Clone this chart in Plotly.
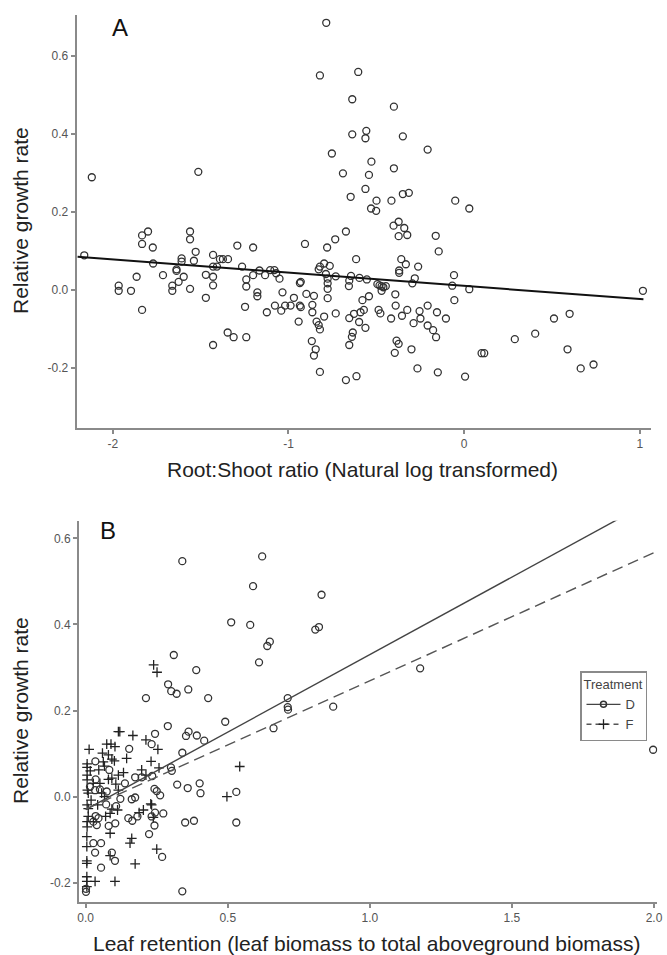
import plotly.graph_objects as go

# ---------------- Panel A data: Root:Shoot ratio (ln) vs RGR ----------------
a_x = [-0.785, -0.821, -0.603, -0.637, -0.400, -0.637, -0.557, -0.562, -0.349, -0.208,
       -0.753, -0.528, -0.400, -0.690, -0.542, -1.513, -2.119, -0.562, -0.349, -0.315,
       -0.646, -0.499, -0.414, -0.530, -0.501, -0.051, 0.029, -0.373, -0.402, -0.341,
       -0.324, -0.373, -0.162, -0.145, -0.673, -0.734, -0.780, -0.906, -0.615, -0.358,
       -0.332, -0.262, -0.370, -0.370, -0.058, -0.281, -0.295, -0.068, 0.029, -0.056,
       -0.392, -0.390, -0.354, -0.324, -0.288, -0.254, -0.208, -0.249, -0.208, -0.177,
       -0.160, -0.155, -0.104, -0.416, -0.385, -0.373, -0.395, -0.300, -0.266, -0.150,
       0.005, 0.099, 0.114, 0.288, 0.404, 0.511, 0.600, 0.588, 0.663, 0.736,
       1.017, -0.821, -0.828, -0.797, -0.765, -0.787, -0.777, -0.777, -0.777, -0.777,
       -0.731, -0.644, -0.654, -0.656, -0.596, -0.554, -0.494, -0.482, -0.470, -0.460,
       -0.446, -0.470, -0.542, -0.579, -0.571, -0.590, -0.487, -0.477, -0.627, -0.654,
       -0.598, -0.562, -0.731, -0.797, -0.840, -0.828, -0.821, -0.864, -0.864, -0.855,
       -0.898, -0.942, -0.634, -0.639, -0.654, -0.867, -0.845, -0.855, -0.821, -0.673,
       -0.613, -2.162, -1.966, -1.966, -1.896, -1.864, -1.833, -1.833, -1.799, -1.772,
       -1.770, -1.833, -1.714, -1.661, -1.661, -1.637, -1.637, -1.625, -1.608, -1.608,
       -1.596, -1.560, -1.560, -1.528, -1.538, -1.560, -1.470, -1.470, -1.429, -1.429,
       -1.429, -1.429, -1.429, -1.390, -1.373, -1.344, -1.407, -1.346, -1.312, -1.291,
       -1.264, -1.240, -1.240, -1.247, -1.240, -1.201, -1.201, -1.177, -1.177, -1.165,
       -1.133, -1.123, -1.104, -1.080, -1.070, -1.051, -1.034, -1.077, -1.041, -1.019,
       -0.988, -0.969, -0.935, -0.930, -0.935, -0.930]
a_y = [0.685, 0.550, 0.559, 0.489, 0.470, 0.399, 0.408, 0.389, 0.394, 0.360,
       0.350, 0.329, 0.312, 0.299, 0.295, 0.303, 0.289, 0.259, 0.246, 0.249,
       0.239, 0.229, 0.229, 0.209, 0.203, 0.229, 0.209, 0.175, 0.165, 0.159,
       0.141, 0.138, 0.139, 0.099, 0.150, 0.130, 0.109, 0.118, 0.079, 0.079,
       0.066, 0.060, 0.050, 0.044, 0.038, 0.030, 0.017, 0.011, 0.002, -0.026,
       -0.011, -0.040, -0.066, -0.051, -0.085, -0.054, -0.040, -0.073, -0.091, -0.103,
       -0.121, -0.057, -0.073, -0.073, -0.130, -0.138, -0.161, -0.152, -0.201, -0.211,
       -0.222, -0.162, -0.162, -0.126, -0.112, -0.073, -0.061, -0.152, -0.201, -0.191,
       -0.002, 0.060, 0.053, 0.068, 0.062, 0.041, 0.029, 0.017, 0.003, -0.021,
       0.035, 0.036, 0.024, 0.010, 0.031, 0.027, 0.015, 0.012, 0.010, 0.007,
       0.010, -0.002, -0.016, -0.026, -0.051, -0.057, -0.051, -0.060, -0.061, -0.072,
       -0.082, -0.097, -0.060, -0.068, -0.081, -0.090, -0.101, -0.057, -0.038, -0.015,
       -0.010, -0.081, -0.109, -0.120, -0.141, -0.131, -0.152, -0.168, -0.210, -0.231,
       -0.221, 0.089, 0.011, -0.002, -0.002, 0.034, 0.140, 0.118, 0.150, 0.109,
       0.068, -0.051, 0.038, 0.011, -0.002, 0.053, 0.049, 0.021, 0.081, 0.073,
       0.034, 0.150, 0.130, 0.098, 0.075, 0.003, 0.039, -0.020, 0.090, 0.060,
       0.034, 0.012, -0.141, 0.079, 0.079, 0.079, 0.060, -0.109, -0.121, 0.114,
       0.060, 0.027, 0.009, -0.043, -0.121, 0.109, 0.038, -0.006, -0.016, 0.050,
       0.038, -0.057, 0.051, 0.051, 0.043, 0.029, -0.006, -0.040, -0.053, -0.040,
       -0.040, -0.020, -0.040, -0.044, 0.018, 0.021]
a_fit_slope = -0.0338
a_fit_intercept = 0.0106
a_fit_x = [-2.2, 1.02]

# ---------------- Panel B data: Leaf retention vs RGR ----------------
d_x = [0.340, 0.621, 0.589, 0.830, 0.512, 0.579, 0.808, 0.821, 0.648, 0.639,
       0.610, 0.310, 0.389, 1.177, 0.290, 0.301, 0.320, 0.361, 0.212, 0.431,
       0.711, 0.711, 0.712, 0.871, 0.491, 0.661, 0.289, 0.244, 0.153, 0.232,
       0.362, 0.353, 0.391, 0.417, 0.340, 0.034, 0.083, 0.300, 0.303, 0.234,
       0.197, 0.174, 0.138, 0.322, 0.401, 0.404, 0.359, 0.242, 0.250, 0.262,
       0.035, 0.015, 0.033, 0.050, 0.074, 0.122, 0.162, 0.174, 0.072, 0.107,
       0.035, 0.045, 0.027, 0.039, 0.081, 0.104, 0.150, 0.164, 0.182, 0.232,
       0.244, 0.273, 0.242, 0.223, 0.350, 0.381, 0.530, 0.530, 0.027, 0.054,
       0.033, 0.092, 0.103, 0.269, 0.054, 0.001, 0.001, 0.340, 1.997]
d_y = [0.547, 0.558, 0.489, 0.469, 0.405, 0.399, 0.388, 0.394, 0.360, 0.350,
       0.312, 0.329, 0.294, 0.298, 0.261, 0.245, 0.239, 0.249, 0.229, 0.229,
       0.229, 0.208, 0.202, 0.209, 0.174, 0.159, 0.164, 0.146, 0.111, 0.122,
       0.151, 0.141, 0.142, 0.130, 0.102, 0.082, 0.062, 0.068, 0.060, 0.048,
       0.045, 0.045, 0.031, 0.028, 0.031, 0.008, 0.020, 0.018, 0.013, 0.003,
       0.040, 0.023, 0.015, 0.017, 0.012, -0.005, -0.006, -0.002, -0.018, -0.022,
       -0.045, -0.050, -0.058, -0.066, -0.068, -0.062, -0.050, -0.056, -0.046, -0.046,
       -0.037, -0.039, -0.067, -0.087, -0.060, -0.056, 0.011, -0.060, -0.108, -0.108,
       -0.130, -0.130, -0.149, -0.140, -0.165, -0.214, -0.221, -0.220, 0.109]
f_x = [0.115, 0.120, 0.166, 0.212, 0.074, 0.089, 0.103, 0.012, 0.144, 0.230,
       0.254, 0.059, 0.080, 0.092, 0.101, 0.062, 0.005, 0.005, 0.066, 0.046,
       0.016, 0.115, 0.005, 0.005, 0.080, 0.092, 0.050, 0.027, 0.106, 0.133,
       0.197, 0.212, 0.258, 0.006, 0.009, 0.056, 0.066, 0.115, 0.019, 0.005,
       0.009, 0.042, 0.086, 0.092, 0.112, 0.188, 0.203, 0.232, 0.009, 0.027,
       0.005, 0.005, 0.070, 0.086, 0.156, 0.162, 0.004, 0.004, 0.086, 0.250,
       0.004, 0.004, 0.174, 0.004, 0.004, 0.033, 0.103, 0.004, 0.239, 0.251,
       0.497, 0.542, 0.229, 0.238]
f_y = [0.151, 0.151, 0.142, 0.132, 0.122, 0.122, 0.116, 0.110, 0.089, 0.082,
       0.110, 0.101, 0.097, 0.087, 0.083, 0.081, 0.076, 0.068, 0.071, 0.062,
       0.060, 0.050, 0.050, 0.039, 0.040, 0.043, 0.031, 0.031, 0.029, 0.056,
       0.062, 0.050, 0.067, 0.015, 0.008, 0.008, 0.000, 0.015, -0.008, -0.019,
       -0.028, -0.019, -0.039, -0.029, -0.031, -0.037, -0.031, -0.019, -0.046, -0.058,
       -0.058, -0.070, -0.046, -0.085, -0.108, -0.097, -0.093, -0.116, -0.137, -0.122,
       -0.149, -0.155, -0.156, -0.186, -0.197, -0.197, -0.197, -0.209, 0.306, 0.289,
       0.000, 0.070, -0.017, -0.048]
d_fit_slope, d_fit_intercept = 0.360, -0.030
f_fit_slope, f_fit_intercept = 0.298, -0.029
b_fit_x = [0.0, 2.0]

# ---------------- Tick labels ----------------
a_xtick_vals = [-2, -1, 0, 1]
a_xtick_text = ["-2", "-1", "0", "1"]
a_ytick_vals = [0.6, 0.4, 0.2, 0.0, -0.2]
a_ytick_text = ["0.6", "0.4", "0.2", "0.0", "-0.2"]
b_xtick_vals = [0.0, 0.5, 1.0, 1.5, 2.0]
b_xtick_text = ["0.0", "0.5", "1.0", "1.5", "2.0"]
b_ytick_vals = [0.6, 0.4, 0.2, 0.0, -0.2]
b_ytick_text = ["0.6", "0.4", "0.2", "0.0", "-0.2"]

W, H = 667, 955
FONT = "Liberation Sans, Arial, sans-serif"
MK = "#333333"


def px(x):
    return x / W


def py(y):
    return 1 - y / H


fig = go.Figure()

# Panel A
fig.add_trace(go.Scatter(x=a_x, y=a_y, mode="markers", xaxis="x", yaxis="y",
                         marker=dict(symbol="circle-open", size=7, color=MK, line=dict(width=1.3, color=MK)),
                         showlegend=False))
fig.add_trace(go.Scatter(x=a_fit_x, y=[a_fit_intercept + a_fit_slope * v for v in a_fit_x],
                         mode="lines", xaxis="x", yaxis="y",
                         line=dict(color="#111111", width=2), showlegend=False))

# Panel B
fig.add_trace(go.Scatter(x=f_x, y=f_y, mode="markers", xaxis="x2", yaxis="y2",
                         marker=dict(symbol="cross-thin-open", size=7, color="#222222",
                                     line=dict(width=1.3, color="#222222")),
                         showlegend=False))
fig.add_trace(go.Scatter(x=d_x, y=d_y, mode="markers", xaxis="x2", yaxis="y2",
                         marker=dict(symbol="circle-open", size=7, color=MK, line=dict(width=1.3, color=MK)),
                         showlegend=False))
fig.add_trace(go.Scatter(x=b_fit_x, y=[d_fit_intercept + d_fit_slope * v for v in b_fit_x],
                         mode="lines", xaxis="x2", yaxis="y2",
                         line=dict(color="#444444", width=1.4), showlegend=False))
fig.add_trace(go.Scatter(x=b_fit_x, y=[f_fit_intercept + f_fit_slope * v for v in b_fit_x],
                         mode="lines", xaxis="x2", yaxis="y2",
                         line=dict(color="#555555", width=1.4, dash="11px,6px"), showlegend=False))

# legend entries
fig.add_trace(go.Scatter(x=[None], y=[None], mode="lines+markers", name="D", xaxis="x2", yaxis="y2",
                         line=dict(color="#444444", width=1.4),
                         marker=dict(symbol="circle-open", size=6, color=MK, line=dict(width=1.5, color=MK))))
fig.add_trace(go.Scatter(x=[None], y=[None], mode="lines+markers", name="F", xaxis="x2", yaxis="y2",
                         line=dict(color="#555555", width=1.4, dash="5px,4px"),
                         marker=dict(symbol="cross-thin-open", size=7, color="#222222",
                                     line=dict(width=1.3, color="#222222"))))

axis_common = dict(showline=True, linecolor="#8a8a8a", linewidth=2, ticks="outside", ticklen=4,
                   tickcolor="#8a8a8a", tickwidth=1.5, showgrid=False, zeroline=False,
                   tickfont=dict(family=FONT, size=12, color="#555555"), automargin=False)

fig.update_layout(
    width=W, height=H, margin=dict(l=0, r=0, t=0, b=0),
    paper_bgcolor="white", plot_bgcolor="white", autosize=False,
    xaxis=dict(domain=[px(76.7), px(651)], range=[-2.205, 1.063], anchor="y",
               tickvals=a_xtick_vals, ticktext=a_xtick_text, **axis_common),
    yaxis=dict(domain=[py(427.7), py(15)], range=[-0.353, 0.705], anchor="x",
               tickvals=a_ytick_vals, ticktext=a_ytick_text, **axis_common),
    xaxis2=dict(domain=[px(79), px(657.4)], range=[-0.0236, 2.012], anchor="y2",
                tickvals=b_xtick_vals, ticktext=b_xtick_text, **axis_common),
    yaxis2=dict(domain=[py(901.7), py(520.7)], range=[-0.244, 0.641], anchor="x2",
                tickvals=b_ytick_vals, ticktext=b_ytick_text, **axis_common),
    legend=dict(x=px(580), y=py(671), xanchor="left", yanchor="top",
                bordercolor="#8a8a8a", borderwidth=1.5, bgcolor="white",
                font=dict(family=FONT, size=13, color="#444444"),
                title=dict(text="Treatment", font=dict(family=FONT, size=13, color="#444444")),
                tracegroupgap=0, itemwidth=34),
    showlegend=True,
)

title_font = dict(family=FONT, size=21, color="#222222")
common_ann = dict(xref="paper", yref="paper", showarrow=False, xanchor="center", yanchor="middle")
annotations = [
    dict(text="A", x=px(120), y=py(28), font=dict(family=FONT, size=24, color="#111111"), **common_ann),
    dict(text="B", x=px(108), y=py(530), font=dict(family=FONT, size=24, color="#111111"), **common_ann),
    dict(text="Root:Shoot ratio (Natural log transformed)", x=px(362), y=py(470),
         font=title_font, **common_ann),
    dict(text="Leaf retention (leaf biomass to total aboveground biomass)", x=px(367), y=py(943),
         font=title_font, **common_ann),
    dict(text="Relative growth rate", x=px(20), y=py(221), textangle=-90, font=title_font, **common_ann),
    dict(text="Relative growth rate", x=px(20), y=py(711), textangle=-90, font=title_font, **common_ann),
]
fig.update_layout(annotations=annotations)

fig.write_html("out.html")
